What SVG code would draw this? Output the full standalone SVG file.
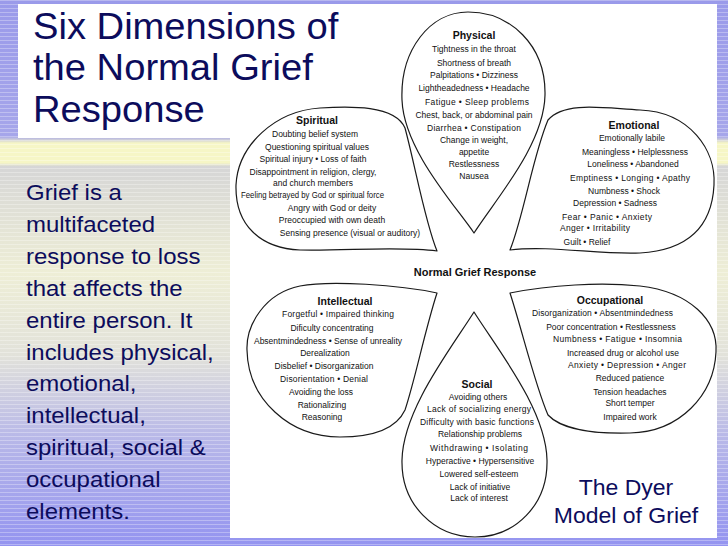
<svg xmlns="http://www.w3.org/2000/svg" width="728" height="546" viewBox="0 0 728 546">
<style>
.petal{fill:#fff;stroke:#1a1a1a;stroke-width:1.2;stroke-linejoin:round}
.h{font-family:"Liberation Sans",Arial,sans-serif;font-weight:bold;font-size:10.5px;fill:#111;text-anchor:middle}
.t{font-family:"Liberation Sans",Arial,sans-serif;font-size:8.5px;fill:#111;text-anchor:middle}
.s{text-anchor:start}
.big{font-family:"Liberation Sans",Arial,sans-serif;fill:#0c0c5c}
</style>
<defs>
<linearGradient id="bg" x1="0" y1="0" x2="0" y2="546" gradientUnits="userSpaceOnUse">
<stop offset="0" stop-color="#9a9aea"/>
<stop offset="0.25" stop-color="#a6a6ea"/>
<stop offset="0.262" stop-color="#f6f6c6"/>
<stop offset="0.298" stop-color="#f6f6c6"/>
<stop offset="0.305" stop-color="#d6d6d6"/>
<stop offset="0.5" stop-color="#eeeed6"/>
<stop offset="0.65" stop-color="#e2e2da"/>
<stop offset="0.8" stop-color="#b8b8e8"/>
<stop offset="1" stop-color="#9494f0"/>
</linearGradient>
<pattern id="stripes" width="8" height="4" patternUnits="userSpaceOnUse">
<rect x="0" y="0" width="8" height="1" fill="#fff" opacity="0.3"/>
</pattern>
</defs>
<rect x="0" y="0" width="728" height="546" fill="url(#bg)"/>
<rect x="0" y="0" width="728" height="546" fill="url(#stripes)"/>
<rect x="18" y="4" width="699" height="134" fill="#fff"/>
<rect x="230" y="4" width="487" height="534" fill="#fff"/>

<g id="title" class="big" font-size="36">
<text transform="translate(33,39) scale(1.06,1)">Six Dimensions of</text>
<text transform="translate(33,80) scale(1.06,1)">the Normal Grief</text>
<text transform="translate(33,122) scale(1.06,1)">Response</text>
</g>

<g id="description" class="big" font-size="22.5">
<text transform="translate(26,200) scale(1.065,1)">Grief is a</text>
<text transform="translate(26,232) scale(1.065,1)">multifaceted</text>
<text transform="translate(26,264) scale(1.065,1)">response to loss</text>
<text transform="translate(26,296) scale(1.065,1)">that affects the</text>
<text transform="translate(26,328) scale(1.065,1)">entire person. It</text>
<text transform="translate(26,360) scale(1.065,1)">includes physical,</text>
<text transform="translate(26,391) scale(1.065,1)">emotional,</text>
<text transform="translate(26,423) scale(1.065,1)">intellectual,</text>
<text transform="translate(26,455) scale(1.065,1)">spiritual, social &amp;</text>
<text transform="translate(26,487) scale(1.065,1)">occupational</text>
<text transform="translate(26,519) scale(1.065,1)">elements.</text>
</g>

<g id="caption" class="big" font-size="21.5" text-anchor="middle">
<text transform="translate(626,495) scale(1.07,1)">The Dyer</text>
<text transform="translate(626,523) scale(1.07,1)">Model of Grief</text>
</g>

<g id="physical">
<path class="petal" d="M474,233 C455,205 404,150 402,100 C400,50 430,12 468,12 C510,12 546,45 545,95 C544,145 495,200 474,233 Z"/>
<text class="h" x="474" y="39">Physical</text>
<text class="t" x="474" y="52">Tightness in the throat</text>
<text class="t" x="474" y="66">Shortness of breath</text>
<text class="t" x="474" y="78">Palpitations • Dizziness</text>
<text class="t" x="474" y="91">Lightheadedness • Headache</text>
<text class="t" x="477" y="105" textLength="104" lengthAdjust="spacing">Fatigue • Sleep problems</text>
<text class="t" x="474" y="118">Chest, back, or abdominal pain</text>
<text class="t" x="474" y="131" textLength="94" lengthAdjust="spacing">Diarrhea • Constipation</text>
<text class="t" x="474" y="143">Change in weight,</text>
<text class="t" x="474" y="155">appetite</text>
<text class="t" x="474" y="167">Restlessness</text>
<text class="t" x="474" y="179">Nausea</text>
</g>

<g id="spiritual">
<path class="petal" d="M437,251 C425,222 415,165 405,128 C395,105 350,106 320,108 C275,111 238,145 236,185 C235,225 260,248 300,250 C345,251 400,246 437,251 Z"/>
<text class="h" x="317" y="124">Spiritual</text>
<text class="t" x="315" y="137">Doubting belief system</text>
<text class="t" x="317" y="150">Questioning spiritual values</text>
<text class="t" x="313" y="162">Spiritual injury • Loss of faith</text>
<text class="t" x="313" y="175">Disappointment in religion, clergy,</text>
<text class="t" x="313" y="186">and church members</text>
<text class="t s" x="241" y="198" textLength="143" lengthAdjust="spacingAndGlyphs">Feeling betrayed by God or spiritual force</text>
<text class="t" x="332" y="211">Angry with God or deity</text>
<text class="t" x="332" y="223">Preoccupied with own death</text>
<text class="t" x="350" y="236">Sensing presence (visual or auditory)</text>
</g>

<g id="emotional">
<path class="petal" d="M510,250 C524,215 533,155 548,120 C565,100 610,109 640,110 C690,112 716,150 714,185 C712,225 690,250 640,253 C600,255 550,245 510,250 Z"/>
<text class="h" x="634" y="129">Emotional</text>
<text class="t" x="632" y="141">Emotionally labile</text>
<text class="t" x="635" y="155">Meaningless • Helplessness</text>
<text class="t" x="633" y="167">Loneliness • Abandoned</text>
<text class="t s" x="570" y="181" textLength="120" lengthAdjust="spacing">Emptiness • Longing • Apathy</text>
<text class="t" x="624" y="194">Numbness • Shock</text>
<text class="t" x="615" y="206">Depression • Sadness</text>
<text class="t s" x="562" y="220" textLength="90" lengthAdjust="spacing">Fear • Panic • Anxiety</text>
<text class="t s" x="560" y="231" textLength="70" lengthAdjust="spacing">Anger • Irritability</text>
<text class="t" x="587" y="245">Guilt • Relief</text>
</g>

<g id="intellectual">
<path class="petal" d="M437,293 C400,285 330,280 300,286 C265,293 246,325 247,350 C248,400 290,437 340,437 C380,437 398,425 405,410 C415,380 425,330 437,293 Z"/>
<text class="h" x="345" y="305">Intellectual</text>
<text class="t s" x="282" y="317" textLength="112" lengthAdjust="spacing">Forgetful • Impaired thinking</text>
<text class="t" x="332" y="331">Dificulty concentrating</text>
<text class="t" x="328" y="344">Absentmindedness • Sense of unreality</text>
<text class="t" x="325" y="356">Derealization</text>
<text class="t" x="324" y="369">Disbelief • Disorganization</text>
<text class="t s" x="280" y="382" textLength="88" lengthAdjust="spacing">Disorientation • Denial</text>
<text class="t" x="321" y="395">Avoiding the loss</text>
<text class="t" x="322" y="408">Rationalizing</text>
<text class="t" x="322" y="420">Reasoning</text>
</g>

<g id="occupational">
<path class="petal" d="M510,293 C550,285 600,282 640,286 C690,292 718,320 716,352 C714,395 680,432 630,433 C590,434 560,428 548,415 C535,385 522,330 510,293 Z"/>
<text class="h" x="610" y="304">Occupational</text>
<text class="t s" x="532" y="316" textLength="141" lengthAdjust="spacing">Disorganization • Absentmindedness</text>
<text class="t" x="611" y="330">Poor concentration • Restlessness</text>
<text class="t s" x="553" y="342" textLength="129" lengthAdjust="spacing">Numbness • Fatigue • Insomnia</text>
<text class="t" x="623" y="356">Increased drug or alcohol use</text>
<text class="t s" x="568" y="368" textLength="118" lengthAdjust="spacing">Anxiety • Depression • Anger</text>
<text class="t" x="630" y="381">Reduced patience</text>
<text class="t" x="630" y="395">Tension headaches</text>
<text class="t" x="630" y="406">Short temper</text>
<text class="t" x="630" y="420">Impaired work</text>
</g>

<g id="social">
<path class="petal" d="M474,312 C450,350 403,410 402,460 C401,505 435,537 475,537 C515,537 548,505 547,460 C546,410 498,350 474,312 Z"/>
<text class="h" x="477" y="388">Social</text>
<text class="t" x="478" y="400">Avoiding others</text>
<text class="t s" x="427" y="412" textLength="104" lengthAdjust="spacing">Lack of socializing energy</text>
<text class="t s" x="420" y="425" textLength="114" lengthAdjust="spacing">Difficulty with basic functions</text>
<text class="t" x="480" y="437">Relationship problems</text>
<text class="t s" x="430" y="451" textLength="98" lengthAdjust="spacing">Withdrawing • Isolating</text>
<text class="t" x="480" y="464">Hyperactive • Hypersensitive</text>
<text class="t" x="479" y="477">Lowered self-esteem</text>
<text class="t" x="480" y="490">Lack of initiative</text>
<text class="t" x="479" y="501">Lack of interest</text>
</g>

<g id="center">
<text x="475" y="276" font-family="Liberation Sans, Arial, sans-serif" font-weight="bold" font-size="11" text-anchor="middle" fill="#111">Normal Grief Response</text>
</g>
</svg>
